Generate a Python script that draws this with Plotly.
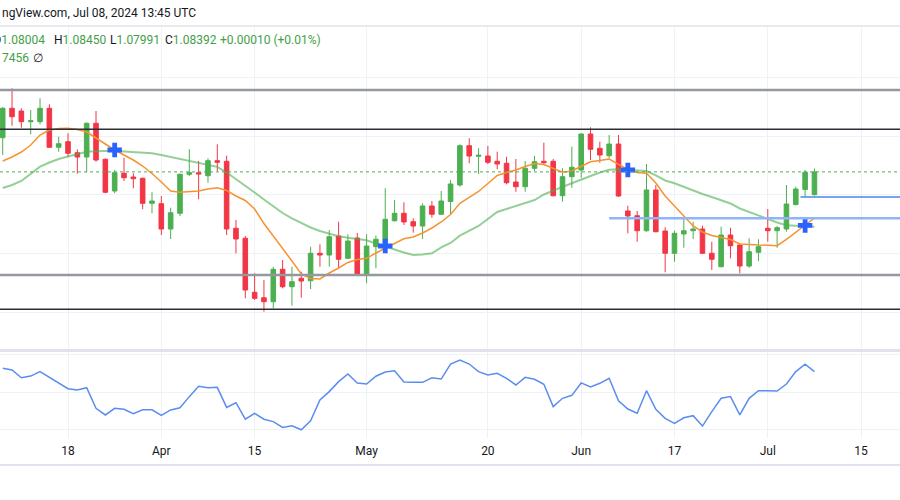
import numpy as np
import pandas as pd
import plotly.graph_objects as go

# ---------------- data ----------------
axis_dates = pd.bdate_range("2024-03-07", "2024-07-19")
dates = pd.bdate_range("2024-03-07", "2024-07-08")

open_ = [1.08973, 1.09473, 1.09427, 1.09245, 1.09245, 1.09473, 1.08810, 1.08905, 1.08718, 1.08645,
         1.09218, 1.08606, 1.08067, 1.08368, 1.08305, 1.08283, 1.07858, 1.07851, 1.07421, 1.07688,
         1.08351, 1.08378, 1.08327, 1.08582, 1.08572, 1.07433, 1.07263, 1.06345, 1.06253, 1.06185,
         1.06736, 1.06440, 1.06583, 1.06542, 1.07008, 1.06979, 1.07302, 1.06923, 1.07268, 1.06639,
         1.07120, 1.07183, 1.07562, 1.07688, 1.07545, 1.07472, 1.07812, 1.07671, 1.07889, 1.08169,
         1.08837, 1.08657, 1.08662, 1.08572, 1.08538, 1.08220, 1.08140, 1.08453, 1.08572, 1.08572,
         1.07987, 1.08310, 1.08424, 1.09036, 1.08793, 1.08667, 1.08866, 1.07727, 1.07647, 1.07392,
         1.08084, 1.07387, 1.07008, 1.07336, 1.07392, 1.07421, 1.07008, 1.06780, 1.07319, 1.07149,
         1.06792, 1.07025, 1.07433, 1.07392, 1.07421, 1.07838, 1.08093, 1.08004]
high = [1.09495, 1.09813, 1.09473, 1.09444, 1.09643, 1.09541, 1.08990, 1.09048, 1.08776, 1.09232,
        1.09427, 1.08620, 1.08424, 1.08633, 1.08368, 1.08297, 1.08045, 1.07982, 1.07783, 1.08365,
        1.08776, 1.08577, 1.08623, 1.08861, 1.08667, 1.07574, 1.07302, 1.06668, 1.06554, 1.06780,
        1.06894, 1.06780, 1.06695, 1.07120, 1.07161, 1.07404, 1.07545, 1.07331, 1.07353, 1.07331,
        1.07307, 1.08113, 1.07914, 1.07875, 1.07603, 1.07858, 1.07897, 1.08067, 1.08254, 1.08861,
        1.08963, 1.08793, 1.08832, 1.08735, 1.08650, 1.08611, 1.08577, 1.08667, 1.08888, 1.08611,
        1.08453, 1.08820, 1.09048, 1.09150, 1.08905, 1.09019, 1.09019, 1.07817, 1.07727, 1.08526,
        1.08169, 1.07450, 1.07392, 1.07613, 1.07545, 1.07477, 1.07205, 1.07460, 1.07443, 1.07178,
        1.07263, 1.07246, 1.07761, 1.07472, 1.08169, 1.08140, 1.08424, 1.08450]
low = [1.08679, 1.09177, 1.09143, 1.09031, 1.09201, 1.08798, 1.08735, 1.08650, 1.08361, 1.08385,
       1.08565, 1.08028, 1.08028, 1.08237, 1.08113, 1.07756, 1.07688, 1.07319, 1.07251, 1.07642,
       1.08322, 1.07926, 1.08208, 1.08407, 1.07319, 1.07008, 1.06243, 1.06214, 1.06015, 1.06073,
       1.06413, 1.06117, 1.06253, 1.06401, 1.06780, 1.06780, 1.06753, 1.06911, 1.06631, 1.06498,
       1.06753, 1.07120, 1.07545, 1.07489, 1.07358, 1.07251, 1.07613, 1.07659, 1.07671, 1.08140,
       1.08538, 1.08356, 1.08526, 1.08436, 1.08181, 1.08055, 1.08055, 1.08407, 1.08509, 1.07974,
       1.07885, 1.08123, 1.08293, 1.08594, 1.08548, 1.08623, 1.07970, 1.07348, 1.07205, 1.07375,
       1.07365, 1.06685, 1.06865, 1.07103, 1.07251, 1.06996, 1.06724, 1.06770, 1.06923, 1.06668,
       1.06763, 1.06877, 1.07205, 1.07103, 1.07375, 1.07821, 1.07965, 1.07991]
close = [1.09473, 1.09330, 1.09245, 1.09262, 1.09473, 1.08810, 1.08871, 1.08708, 1.08645, 1.09218,
         1.08594, 1.08045, 1.08378, 1.08293, 1.08276, 1.07858, 1.07897, 1.07421, 1.07698, 1.08351,
         1.08378, 1.08356, 1.08582, 1.08555, 1.07421, 1.07251, 1.06384, 1.06243, 1.06185, 1.06736,
         1.06440, 1.06525, 1.06537, 1.07008, 1.06979, 1.07290, 1.06906, 1.07217, 1.06639, 1.07132,
         1.07246, 1.07586, 1.07688, 1.07540, 1.07472, 1.07812, 1.07671, 1.07897, 1.08186, 1.08837,
         1.08662, 1.08674, 1.08555, 1.08526, 1.08208, 1.08140, 1.08453, 1.08565, 1.08548, 1.07987,
         1.08310, 1.08470, 1.09036, 1.08776, 1.08679, 1.08866, 1.07982, 1.07642, 1.07392, 1.08084,
         1.07375, 1.07008, 1.07348, 1.07392, 1.07421, 1.07008, 1.06906, 1.07319, 1.07137, 1.06792,
         1.07035, 1.07120, 1.07392, 1.07443, 1.07846, 1.08101, 1.08385, 1.08392]

ma_fast = [1.08577, 1.08645, 1.08730, 1.08849, 1.09019, 1.09104, 1.09130, 1.09133, 1.09113, 1.09070,
           1.08968, 1.08866, 1.08764, 1.08679, 1.08594, 1.08492, 1.08365, 1.08220, 1.08067, 1.08045,
           1.08059, 1.08067, 1.08101, 1.08123, 1.08076, 1.07982, 1.07906, 1.07761, 1.07515, 1.07302,
           1.07107, 1.06877, 1.06656, 1.06580, 1.06571, 1.06673, 1.06758, 1.06852, 1.06903, 1.06923,
           1.07013, 1.07098, 1.07175, 1.07254, 1.07285, 1.07353, 1.07438, 1.07540, 1.07668, 1.07858,
           1.07957, 1.08059, 1.08195, 1.08331, 1.08382, 1.08424, 1.08484, 1.08535, 1.08518, 1.08458,
           1.08385, 1.08407, 1.08484, 1.08565, 1.08586, 1.08611, 1.08518, 1.08433, 1.08382, 1.08368,
           1.08203, 1.07982, 1.07812, 1.07634, 1.07472, 1.07370, 1.07311, 1.07277, 1.07243, 1.07166,
           1.07152, 1.07149, 1.07144, 1.07137, 1.07243, 1.07370, 1.07489, 1.07608]
ma_slow = [1.08118, 1.08169, 1.08237, 1.08359, 1.08480, 1.08552, 1.08611, 1.08654, 1.08696, 1.08735,
           1.08744, 1.08747, 1.08752, 1.08739, 1.08730, 1.08718, 1.08708, 1.08679, 1.08645, 1.08603,
           1.08569, 1.08540, 1.08512, 1.08478, 1.08382, 1.08271, 1.08166, 1.08042, 1.07923, 1.07812,
           1.07693, 1.07600, 1.07523, 1.07447, 1.07387, 1.07336, 1.07297, 1.07271, 1.07251, 1.07229,
           1.07175, 1.07118, 1.07073, 1.07022, 1.06979, 1.06988, 1.07008, 1.07107, 1.07183, 1.07307,
           1.07396, 1.07472, 1.07591, 1.07710, 1.07761, 1.07812, 1.07863, 1.07914, 1.08008, 1.08076,
           1.08138, 1.08198, 1.08254, 1.08322, 1.08382, 1.08427, 1.08436, 1.08429, 1.08419, 1.08407,
           1.08331, 1.08246, 1.08198, 1.08135, 1.08067, 1.08016, 1.07965, 1.07914, 1.07855, 1.07770,
           1.07710, 1.07659, 1.07603, 1.07532, 1.07484, 1.07472, 1.07467, 1.07460]

rsi = [62.8, 61.9, 57.7, 58.6, 61.0, 57.9, 55.0, 51.8, 51.1, 52.3,
       41.2, 37.6, 41.2, 40.7, 38.3, 40.4, 40.4, 37.4, 40.3, 41.5,
       47.5, 53.1, 52.3, 52.5, 41.7, 44.2, 35.3, 38.5, 35.3, 34.0,
       30.9, 31.8, 29.6, 34.5, 45.7, 50.2, 55.6, 59.7, 54.9, 54.3,
       58.5, 60.8, 61.5, 55.4, 55.2, 55.2, 57.7, 57.0, 65.1, 67.3,
       65.1, 61.0, 59.2, 60.1, 57.4, 53.8, 57.9, 56.9, 54.2, 42.1,
       46.6, 48.2, 54.9, 52.7, 54.7, 57.4, 45.3, 40.8, 38.5, 50.7,
       40.7, 35.8, 33.1, 36.1, 37.2, 31.6, 39.4, 46.6, 47.5, 37.6,
       46.6, 50.7, 50.7, 50.5, 54.3, 61.0, 65.0, 61.0]

cross_dates = ["2024-03-25", "2024-05-03", "2024-06-10", "2024-07-05"]
cross_price = [1.08764, 1.07132, 1.08424, 1.07481]

h_dark = [1.09116, 1.06056]
h_gray = [1.09784, 1.06639]
last_price = 1.08392
blue_lines = [("2024-06-06", 1.07603), ("2024-07-04", 1.07965)]

tick_dates = ["2024-03-18", "2024-04-01", "2024-04-15", "2024-05-01", "2024-05-20",
              "2024-06-03", "2024-06-17", "2024-07-01", "2024-07-15"]
tick_text = ["18", "Apr", "15", "May", "20", "Jun", "17", "Jul", "15"]

# ---------------- figure ----------------
x = np.arange(len(dates))
pos = lambda d: axis_dates.get_loc(pd.Timestamp(d))
tickvals = [pos(d) for d in tick_dates]

H = 500
def py(p):  # pixel row -> paper y
    return 1 - p / H

GREEN = "#4caf50"
RED = "#f23645"

fig = go.Figure()
fig.add_trace(go.Candlestick(
    x=x, open=open_, high=high, low=low, close=close,
    increasing=dict(line=dict(color=GREEN, width=1), fillcolor=GREEN),
    decreasing=dict(line=dict(color=RED, width=1), fillcolor=RED),
    whiskerwidth=0, xaxis="x", yaxis="y", showlegend=False, hoverinfo="skip"))
fig.add_trace(go.Scatter(x=x, y=ma_slow, mode="lines",
                         line=dict(color="rgba(76,175,80,0.6)", width=2),
                         xaxis="x", yaxis="y", showlegend=False, hoverinfo="skip"))
fig.add_trace(go.Scatter(x=x, y=ma_fast, mode="lines",
                         line=dict(color="#f7932f", width=1.5),
                         xaxis="x", yaxis="y", showlegend=False, hoverinfo="skip"))
fig.add_trace(go.Scatter(x=[pos(d) for d in cross_dates], y=cross_price, mode="markers",
                         marker=dict(symbol="cross", size=12, color="#2962ff",
                                     line=dict(width=0)),
                         xaxis="x", yaxis="y", showlegend=False, hoverinfo="skip"))
fig.add_trace(go.Scatter(x=x, y=rsi, mode="lines",
                         line=dict(color="#5b8def", width=1.5),
                         xaxis="x", yaxis="y2", showlegend=False, hoverinfo="skip"))

xr = [-0.29, 96.17]
shapes = []
for v in h_gray:
    shapes.append(dict(type="line", xref="paper", yref="y", x0=0, x1=1, y0=v, y1=v,
                       line=dict(color="#9598a1", width=2.5)))
for v in h_dark:
    shapes.append(dict(type="line", xref="paper", yref="y", x0=0, x1=1, y0=v, y1=v,
                       line=dict(color="#2a2e39", width=1.5)))
shapes.append(dict(type="line", xref="paper", yref="y", x0=0, x1=1, y0=last_price, y1=last_price,
                   line=dict(color=GREEN, width=1, dash="dot")))
shapes.append(dict(type="line", xref="x", yref="y", x0=pos(blue_lines[0][0]), x1=xr[1],
                   y0=blue_lines[0][1], y1=blue_lines[0][1],
                   line=dict(color="#90b4f5", width=2.5)))
shapes.append(dict(type="line", xref="x", yref="y", x0=pos(blue_lines[1][0]) + 0.5, x1=xr[1],
                   y0=blue_lines[1][1], y1=blue_lines[1][1],
                   line=dict(color="#4a86e8", width=1.5)))
# panel separators
shapes.append(dict(type="line", xref="paper", yref="paper", x0=0, x1=1, y0=py(26), y1=py(26),
                   line=dict(color="#e0e3eb", width=1.5)))
shapes.append(dict(type="line", xref="paper", yref="paper", x0=0, x1=1, y0=py(350.5), y1=py(350.5),
                   line=dict(color="#e0e3eb", width=3)))
shapes.append(dict(type="line", xref="paper", yref="paper", x0=0, x1=1, y0=py(465), y1=py(465),
                   line=dict(color="#e0e3eb", width=2)))

FONT = "Roboto, Arial, sans-serif"
TXT = "#131722"
VAL = "#43a047"
annots = [
    dict(text="ngView.com, Jul 08, 2024 13:45 UTC", x=0, y=py(13), xanchor="left"),
    dict(text=f"O<span style='color:{VAL}'>1.08004</span>", x=47 / 900, y=py(40), xanchor="right"),
    dict(text=f"H<span style='color:{VAL}'>1.08450</span>", x=52 / 900, y=py(40), xanchor="left"),
    dict(text=f"L<span style='color:{VAL}'>1.07991</span>", x=108 / 900, y=py(40), xanchor="left"),
    dict(text=f"C<span style='color:{VAL}'>1.08392</span>", x=163 / 900, y=py(40), xanchor="left"),
    dict(text=f"<span style='color:{VAL}'>+0.00010 (+0.01%)</span>", x=218 / 900, y=py(40), xanchor="left"),
    dict(text=f"<span style='color:{VAL}'>7456</span>", x=0, y=py(58), xanchor="left"),
    dict(text="∅", x=38 / 900, y=py(58), xanchor="center"),
]
annotations = []
for a in annots:
    a.update(xref="paper", yref="paper", yanchor="middle", showarrow=False,
             font=dict(family=FONT, size=12, color=TXT))
    annotations.append(a)

fig.update_layout(
    width=900, height=500, margin=dict(l=0, r=0, t=0, b=0),
    paper_bgcolor="white", plot_bgcolor="white",
    font=dict(family=FONT, color=TXT),
    showlegend=False, hovermode=False,
    xaxis=dict(range=xr, domain=[0, 1], anchor="y2", tickvals=tickvals, ticktext=tick_text,
               showgrid=True, gridcolor="#eef1f6", gridwidth=1, zeroline=False, showline=False,
               ticks="", tickfont=dict(size=12, color=TXT, family=FONT),
               ticklabelstandoff=4, rangeslider=dict(visible=False), fixedrange=True),
    yaxis=dict(domain=[py(349), py(26)], range=[1.05381, 1.10872], dtick=0.01, tick0=1.0,
               showgrid=True, gridcolor="#eef1f6", zeroline=False, showticklabels=False,
               ticks="", showline=False),
    yaxis2=dict(domain=[py(438), py(352)], range=[25.16, 71.6], tickvals=[30, 50, 70],
                showgrid=True, gridcolor="#eef1f6", zeroline=False, showticklabels=False,
                ticks="", showline=False),
    shapes=shapes, annotations=annotations,
)

fig.write_html("out.html")
